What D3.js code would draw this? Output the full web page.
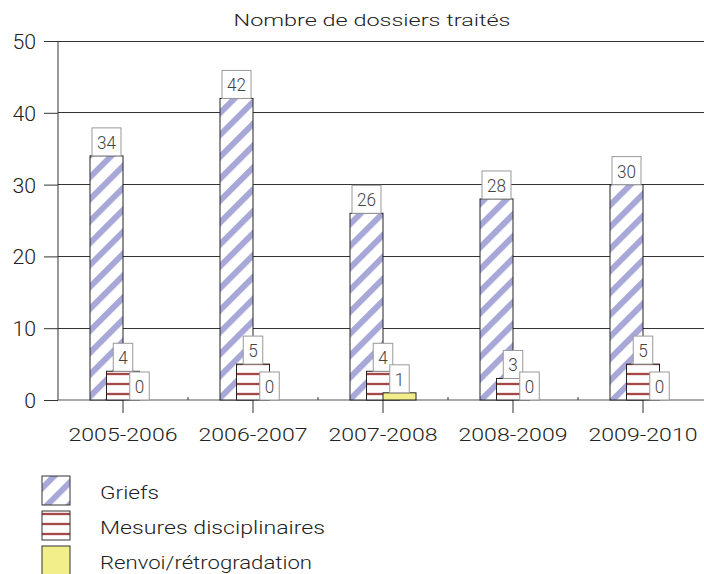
<!DOCTYPE html>
<html><head><meta charset="utf-8">
<script src="https://cdn.jsdelivr.net/npm/d3@7"></script>
<style>body{margin:0;background:#fff}svg{display:block}text{font-family:Roboto,"Liberation Sans",Arial,sans-serif;font-weight:300}</style>
</head><body><svg id="c" width="704" height="574"></svg>
<script>
const categories = ["2005-2006","2006-2007","2007-2008","2008-2009","2009-2010"];
const griefs = [34,42,26,28,30];
const mesures = [4,5,4,3,5];
const renvoi = [0,0,1,0,0];
const yTicks = [0,10,20,30,40,50];
const seriesNames = ["Griefs","Mesures disciplinaires","Renvoi/rétrogradation"];
const title = "Nombre de dossiers traités";
const FONT = "Roboto, Liberation Sans, Arial, sans-serif";

const svg = d3.select("#c");
const defs = svg.append("defs");
const pg = defs.append("pattern").attr("id","pG").attr("patternUnits","userSpaceOnUse")
  .attr("width",15.5).attr("height",20).attr("patternTransform","rotate(45)");
pg.append("rect").attr("width",15.5).attr("height",20).attr("fill","#fff");
pg.append("rect").attr("x",0).attr("width",6).attr("height",20).attr("fill","#a8a8d8");
const pm = defs.append("pattern").attr("id","pM").attr("patternUnits","userSpaceOnUse")
  .attr("width",20).attr("height",10).attr("y",0);
pm.append("rect").attr("width",20).attr("height",10).attr("fill","#fff");
pm.append("rect").attr("y",2.5).attr("width",20).attr("height",3).attr("fill","#e6c4c4");
pm.append("rect").attr("y",3).attr("width",20).attr("height",2).attr("fill","#a54848");

const x = d3.scaleBand().domain(categories).range([58,708]).padding(0);
const y = d3.scaleLinear().domain([0,50]).range([400,41]);
const bw = 33;
const cx = c => x(c) + x.bandwidth()/2;

// gridlines
svg.append("g").selectAll("line").data(yTicks.filter(d=>d>0)).join("line")
  .attr("x1",58).attr("x2",704).attr("y1",d=>y(d)).attr("y2",d=>y(d))
  .attr("stroke","#333").attr("stroke-width",1).attr("shape-rendering","crispEdges");

// y axis
const ya = svg.append("g").attr("transform","translate(58,0)")
  .call(d3.axisLeft(y).tickValues(yTicks).tickSize(14).tickPadding(8).tickFormat(d3.format("d")));
ya.select(".domain").attr("stroke","#333").attr("d","M0,41V400");
ya.selectAll(".tick line").attr("stroke","#333");
ya.selectAll("text").attr("font-size",21).attr("fill","#222").attr("dy","0.36em")
  .attr("font-family",FONT).attr("textLength",d=>String(d).length*11.8).attr("lengthAdjust","spacingAndGlyphs");

// x axis
const xa = svg.append("g").attr("transform","translate(0,400)")
  .call(d3.axisBottom(x).tickSize(13).tickPadding(15));
xa.select(".domain").attr("stroke","#555").attr("d","M58,0H704");
xa.selectAll(".tick line").attr("stroke","#333");
xa.selectAll("text").attr("font-size",18).attr("fill","#222")
  .attr("font-family",FONT)
  .attr("textLength",109).attr("lengthAdjust","spacingAndGlyphs");
svg.append("g").selectAll("line").data(categories.slice(1)).join("line")
  .attr("x1",d=>x(d)).attr("x2",d=>x(d)).attr("y1",397).attr("y2",400).attr("stroke","#333");

const series = [
  {vals:griefs, off:-bw, fill:"url(#pG)"},
  {vals:mesures, off:-bw/2, fill:"url(#pM)"},
  {vals:renvoi, off:0, fill:"#f2ef8a"}
];
const bars = svg.append("g");
series.forEach(s=>{
  bars.append("g").selectAll("rect").data(categories).join("rect")
    .attr("x",(c)=>cx(c)+s.off).attr("width",bw)
    .attr("y",(c,i)=>y(s.vals[i])).attr("height",(c,i)=>y(0)-y(s.vals[i]))
    .attr("fill",s.fill).attr("stroke","#222").attr("stroke-width",1);
});
// labels
const lab = svg.append("g");
series.forEach(s=>{
  categories.forEach((c,i)=>{
    const g = lab.append("g");
    const txt = String(s.vals[i]);
    const tw = txt.length*9.5;
    g.append("rect").attr("x",cx(c)+s.off+bw/2-(tw+10)/2).attr("width",tw+10)
      .attr("y",y(s.vals[i])-28).attr("height",28).attr("fill","#fff").attr("stroke","#999");
    g.append("text").attr("x",cx(c)+s.off+bw/2).attr("y",y(s.vals[i])-7)
      .attr("text-anchor","middle").attr("font-size",18).attr("fill","#444")
      .attr("textLength",tw).attr("lengthAdjust","spacingAndGlyphs").text(txt);
  });
});

// title
svg.append("text").attr("x",372).attr("y",26).attr("text-anchor","middle")
  .attr("font-size",17).attr("fill","#222").attr("textLength",277)
  .attr("lengthAdjust","spacingAndGlyphs").text(title);

// legend
const fills = ["url(#pG)","url(#pM)","#f2ef8a"];
const widths = [59,225,212];
const lg = svg.append("g");
seriesNames.forEach((n,i)=>{
  lg.append("rect").attr("x",42).attr("y",476+35*i).attr("width",28).attr("height",29)
    .attr("fill",fills[i]).attr("stroke","#333");
  lg.append("text").attr("x",100).attr("y",499+35*i).attr("font-size",18).attr("fill","#222")
    .attr("textLength",widths[i]).attr("lengthAdjust","spacingAndGlyphs").text(n);
});
</script></body></html>
